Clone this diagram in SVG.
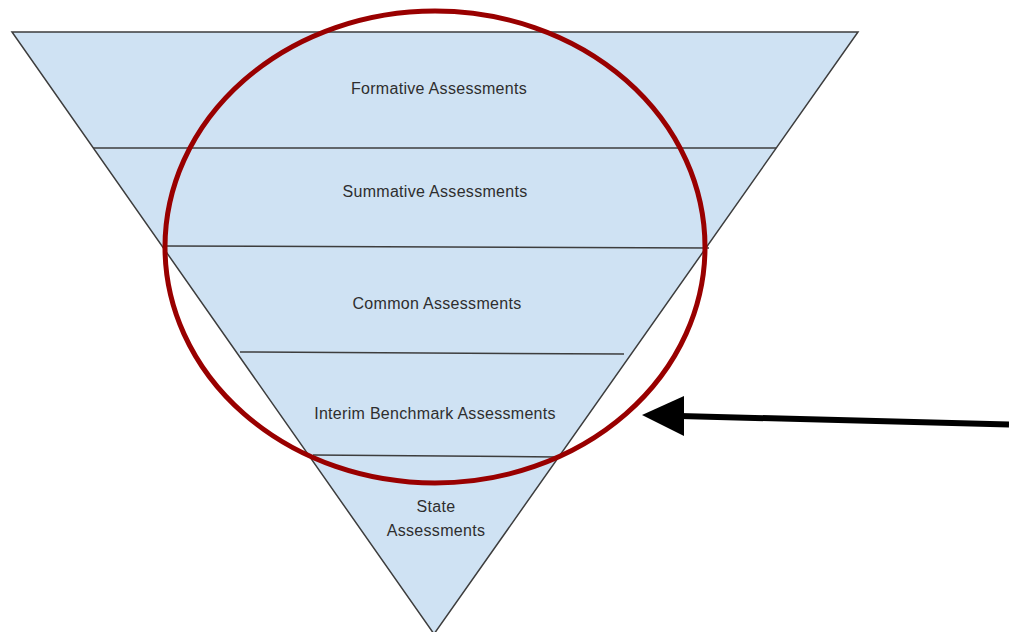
<svg xmlns="http://www.w3.org/2000/svg" width="1009" height="632" viewBox="0 0 1009 632">
<style>
.lvl{fill:none;stroke:#3d3d3d;stroke-width:1.5}
.lbl{font-family:"Liberation Sans",Arial,sans-serif;font-size:16px;letter-spacing:0.3px;fill:#2e2e2e;text-anchor:middle}
</style>
<rect width="1009" height="632" fill="#fff"/>
<g id="pyramid">
<polygon points="12,32 858,32 434,634" fill="#cfe2f3" stroke="#3d3d3d" stroke-width="1.5"/>
</g>
<g id="formative">
<text class="lbl" x="439" y="94">Formative Assessments</text>
</g>
<g id="summative">
<line class="lvl" x1="93" y1="148" x2="776" y2="148"/>
<text class="lbl" x="435" y="197">Summative Assessments</text>
</g>
<g id="common">
<line class="lvl" x1="163" y1="246" x2="709" y2="248"/>
<text class="lbl" x="437" y="309">Common Assessments</text>
</g>
<g id="interim">
<line class="lvl" x1="240" y1="352" x2="624" y2="354"/>
<text class="lbl" x="435" y="419">Interim Benchmark Assessments</text>
</g>
<g id="state">
<line class="lvl" x1="313" y1="455" x2="557" y2="457"/>
<text class="lbl" x="436" y="512">State</text>
<text class="lbl" x="436" y="536">Assessments</text>
</g>
<g id="highlight">
<ellipse cx="435" cy="247" rx="270" ry="236" fill="none" stroke="#990000" stroke-width="5"/>
</g>
<g id="connectors">
<line x1="1009" y1="424.5" x2="680" y2="416" stroke="#000" stroke-width="6"/>
<polygon points="642,415 684,396 684,436" fill="#000"/>
</g>
</svg>
